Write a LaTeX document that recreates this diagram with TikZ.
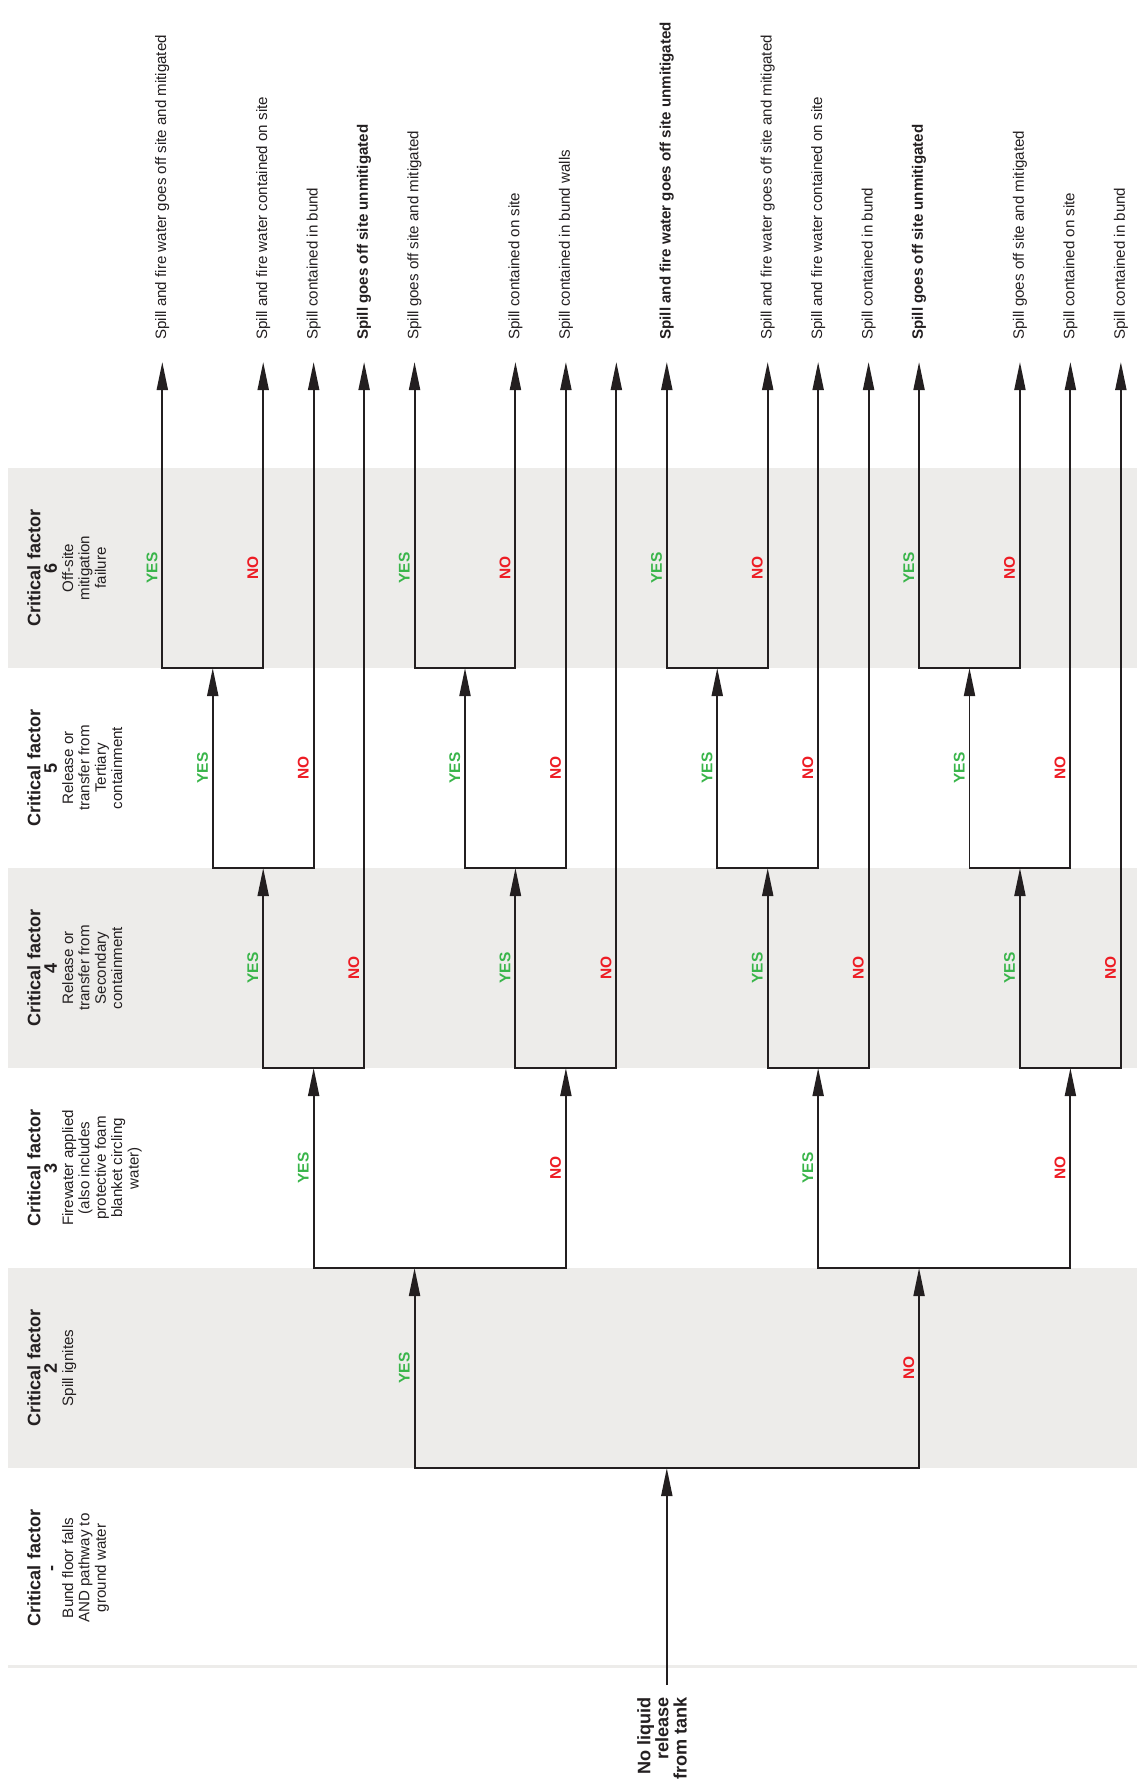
\documentclass[tikz,border=0pt]{standalone}
\usepackage{fontspec}
\setmainfont{Liberation Sans}
\usetikzlibrary{arrows.meta}

\definecolor{bandgray}{RGB}{237,236,234}
\definecolor{linegray}{RGB}{35,31,32}
\definecolor{yesgreen}{RGB}{57,181,74}
\definecolor{nored}{RGB}{237,28,36}

\newcommand{\titlefont}{\fontsize{10.3}{10.3}\selectfont\bfseries}
\newcommand{\smallfont}{\fontsize{8.6}{9.3}\selectfont}

\tikzset{
    branch/.style={line width=1.1pt, linegray},
    arr/.style={branch, -{Triangle[length=5.6mm, width=2.2mm]}},
    factor/.style={rotate=90, anchor=north, align=center, inner sep=0pt, font=\smallfont, text=linegray},
    leaf/.style={rotate=90, anchor=west, inner sep=0pt, font=\smallfont, text=linegray},
    yes/.style={rotate=90, anchor=south, inner sep=0pt, font=\fontsize{8.8}{9.3}\selectfont\bfseries, text=yesgreen},
    no/.style={yes, text=nored},
}

\begin{document}
\begin{tikzpicture}[x=0.2mm, y=-0.2mm]
    \useasboundingbox (0,0) rectangle (1137,1782);

    % Bands
    \fill[bandgray] (8,468) rectangle (1137,668);
    \fill[bandgray] (8,868) rectangle (1137,1068);
    \fill[bandgray] (8,1268) rectangle (1137,1468);
    \draw[bandgray, line width=0.6mm] (8,1666) -- (1137,1666);

    % Critical factors
    \node[factor] (cf6) at (27,568) {{\titlefont Critical factor}\\{\titlefont 6}\\Off-site\\mitigation\\failure};
    \node[factor] (cf5) at (27,768) {{\titlefont Critical factor}\\{\titlefont 5}\\Release or\\transfer from\\Tertiary\\containment};
    \node[factor] (cf4) at (27,968) {{\titlefont Critical factor}\\{\titlefont 4}\\Release or\\transfer from\\Secondary\\containment};
    \node[factor] (cf3) at (27,1168) {{\titlefont Critical factor}\\{\titlefont 3}\\Firewater applied\\(also includes\\protective foam\\blanket circling\\water)};
    \node[factor] (cf2) at (27,1368) {{\titlefont Critical factor}\\{\titlefont 2}\\Spill ignites};
    \node[factor] (cf1) at (27,1568) {{\titlefont Critical factor}\\{\titlefont -}\\Bund floor falls\\AND pathway to\\ground water};

    % Outcomes
    \foreach \k in {0,...,19}
        \coordinate (t\k) at ({162.3+50.45*\k},362);
    \foreach \k/\txt in {0/Spill and fire water goes off site and mitigated,
                         2/Spill and fire water contained on site,
                         3/Spill contained in bund,
                         4/\textbf{Spill goes off site unmitigated},
                         5/Spill goes off site and mitigated,
                         7/Spill contained on site,
                         8/Spill contained in bund walls,
                         10/\textbf{Spill and fire water goes off site unmitigated},
                         12/Spill and fire water goes off site and mitigated,
                         13/Spill and fire water contained on site,
                         14/Spill contained in bund,
                         15/\textbf{Spill goes off site unmitigated},
                         17/Spill goes off site and mitigated,
                         18/Spill contained on site,
                         19/Spill contained in bund}
        \node[leaf] (L\k) at ({162.3+50.45*\k},340) {\txt};

    % Start
    \node[rotate=90, anchor=east, align=right, inner sep=0pt, font=\titlefont, text=linegray] (start) at (662,1697) {No liquid\\release\\from tank};
    \coordinate (a0) at (t10 |- 0,1685);
    \coordinate (j) at (t10 |- 0,1468);

    % Junctions
    \coordinate (y) at (t5 |- 0,1268);
    \coordinate (n) at (t15 |- 0,1268);
    \coordinate (yy) at (t3 |- 0,1068);
    \coordinate (yn) at (t8 |- 0,1068);
    \coordinate (ny) at (t13 |- 0,1068);
    \coordinate (nn) at (t18 |- 0,1068);
    \coordinate (yyy) at (t2 |- 0,868);
    \coordinate (yny) at (t7 |- 0,868);
    \coordinate (nyy) at (t12 |- 0,868);
    \coordinate (nny) at (t17 |- 0,868);
    \coordinate (yyyy) at (t1 |- 0,668);
    \coordinate (ynyy) at (t6 |- 0,668);
    \coordinate (nyyy) at (t11 |- 0,668);
    \coordinate (nnyy) at (t16 |- 0,668);

    % Branches
    \draw[arr] (a0) -- (j);
    \draw[arr] (j) -| (y);
    \draw[arr] (j) -| (n);

    \draw[arr] (y) -| (yy);
    \draw[arr] (y) -| (yn);
    \draw[arr] (n) -| (ny);
    \draw[arr] (n) -| (nn);

    \draw[arr] (yy) -| (yyy);
    \draw[arr] (yy) -| (t4);
    \draw[arr] (yn) -| (yny);
    \draw[arr] (yn) -| (t9);
    \draw[arr] (ny) -| (nyy);
    \draw[arr] (ny) -| (t14);
    \draw[arr] (nn) -| (nny);
    \draw[arr] (nn) -| (t19);

    \draw[arr] (yyy) -| (yyyy);
    \draw[arr] (yyy) -| (t3);
    \draw[arr] (yny) -| (ynyy);
    \draw[arr] (yny) -| (t8);
    \draw[arr] (nyy) -| (nyyy);
    \draw[arr] (nyy) -| (t13);
    \draw[arr] (nny) -| (nnyy);
    \draw[arr] (nny) -| (t18);

    \draw[arr] (yyyy) -| (t0);
    \draw[arr] (yyyy) -| (t2);
    \draw[arr] (ynyy) -| (t5);
    \draw[arr] (ynyy) -| (t7);
    \draw[arr] (nyyy) -| (t10);
    \draw[arr] (nyyy) -| (t12);
    \draw[arr] (nnyy) -| (t15);
    \draw[arr] (nnyy) -| (t17);

    % YES / NO labels
    \node[yes] (yes2) at ({157.8+50.45*5},1368) {YES};
    \node[no] (no2) at ({157.8+50.45*15},1368) {NO};
    \foreach \k in {3,13}
        \node[yes] (yes3-\k) at ({157.8+50.45*\k},1168) {YES};
    \foreach \k in {8,18}
        \node[no] (no3-\k) at ({157.8+50.45*\k},1168) {NO};
    \foreach \k in {2,7,12,17}
        \node[yes] (yes4-\k) at ({157.8+50.45*\k},968) {YES};
    \foreach \k in {4,9,14,19}
        \node[no] (no4-\k) at ({157.8+50.45*\k},968) {NO};
    \foreach \k in {1,6,11,16}
        \node[yes] (yes5-\k) at ({157.8+50.45*\k},768) {YES};
    \foreach \k in {3,8,13,18}
        \node[no] (no5-\k) at ({157.8+50.45*\k},768) {NO};
    \foreach \k in {0,5,10,15}
        \node[yes] (yes6-\k) at ({157.8+50.45*\k},568) {YES};
    \foreach \k in {2,7,12,17}
        \node[no] (no6-\k) at ({157.8+50.45*\k},568) {NO};
\end{tikzpicture}
\end{document}
